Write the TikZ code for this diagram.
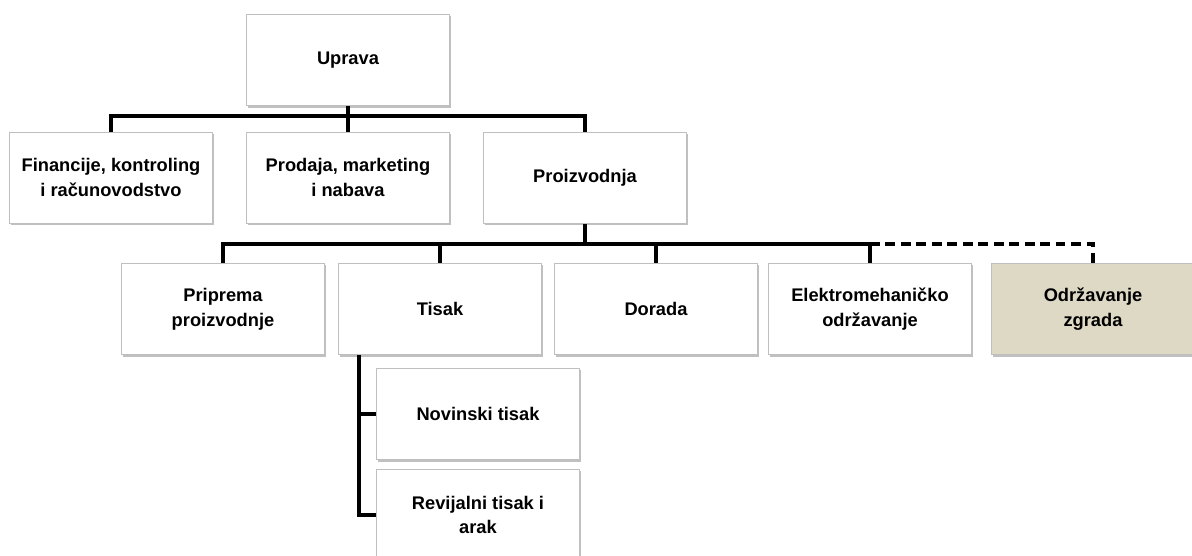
\documentclass[tikz,border=0pt]{standalone}
\usepackage{fontspec}
\setmainfont{Liberation Sans}
\usetikzlibrary{shadows}
\definecolor{boxedge}{HTML}{BFBFBF}
\definecolor{tanfill}{HTML}{DDD9C4}
\begin{document}
\begin{tikzpicture}[
    font=\fontsize{13}{17.5}\selectfont\bfseries,
    org box/.style={
        draw=boxedge, fill=white, line width=0.6pt,
        minimum width=5.07cm, minimum height=2.28cm,
        align=center, inner sep=4pt,
        drop shadow={shadow xshift=0.9pt, shadow yshift=-1.4pt,
                     fill=black!45, opacity=0.55}
    },
    tan box/.style={org box, fill=tanfill},
    org line/.style={draw=black, line width=2.7pt},
    dashed line/.style={org line, dash pattern=on 7pt off 4pt}
]
    \useasboundingbox (0,0) rectangle (29.8,-13.875);

    \node[org box] (uprava) at (8.70,-1.50) {Uprava};

    \node[org box] (financije) at (2.775,-4.44)
        {Financije, kontroling\\i računovodstvo};
    \node[org box] (prodaja) at (8.70,-4.44)
        {Prodaja, marketing\\i nabava};
    \node[org box] (proizvodnja) at (14.625,-4.44) {Proizvodnja};

    \node[org box] (priprema) at (5.575,-7.725)
        {Priprema\\proizvodnje};
    \node[org box] (tisak) at (11.0,-7.725) {Tisak};
    \node[org box] (dorada) at (16.4,-7.725) {Dorada};
    \node[org box] (elektro) at (21.75,-7.725)
        {Elektromehaničko\\održavanje};
    \node[tan box] (zgrade) at (27.325,-7.725)
        {Održavanje\\zgrada};

    \node[org box] (novinski) at (11.95,-10.35) {Novinski tisak};
    \node[org box] (revijalni) at (11.95,-12.875)
        {Revijalni tisak i\\arak};

    \coordinate (bus top) at (0,-2.90);
    \coordinate (bus mid) at (0,-6.10);
    \coordinate (spine) at (8.975,0);

    \draw[org line] (uprava.south) -- (prodaja.north);
    \draw[org line] (financije.north) |- (proizvodnja.north |- bus top)
        -- (proizvodnja.north);

    \draw[org line] (proizvodnja.south) -- (proizvodnja.south |- bus mid);
    \draw[org line] (priprema.north) |- (elektro.north |- bus mid)
        -- (elektro.north);
    \draw[org line] (tisak.north) -- (tisak.north |- bus mid);
    \draw[org line] (dorada.north) -- (dorada.north |- bus mid);
    \draw[dashed line] (elektro.north |- bus mid) -| (zgrade.north);

    \draw[org line] (spine |- tisak.south) |- (revijalni.west);
    \draw[org line] (spine |- novinski.west) -- (novinski.west);

\end{tikzpicture}
\end{document}
